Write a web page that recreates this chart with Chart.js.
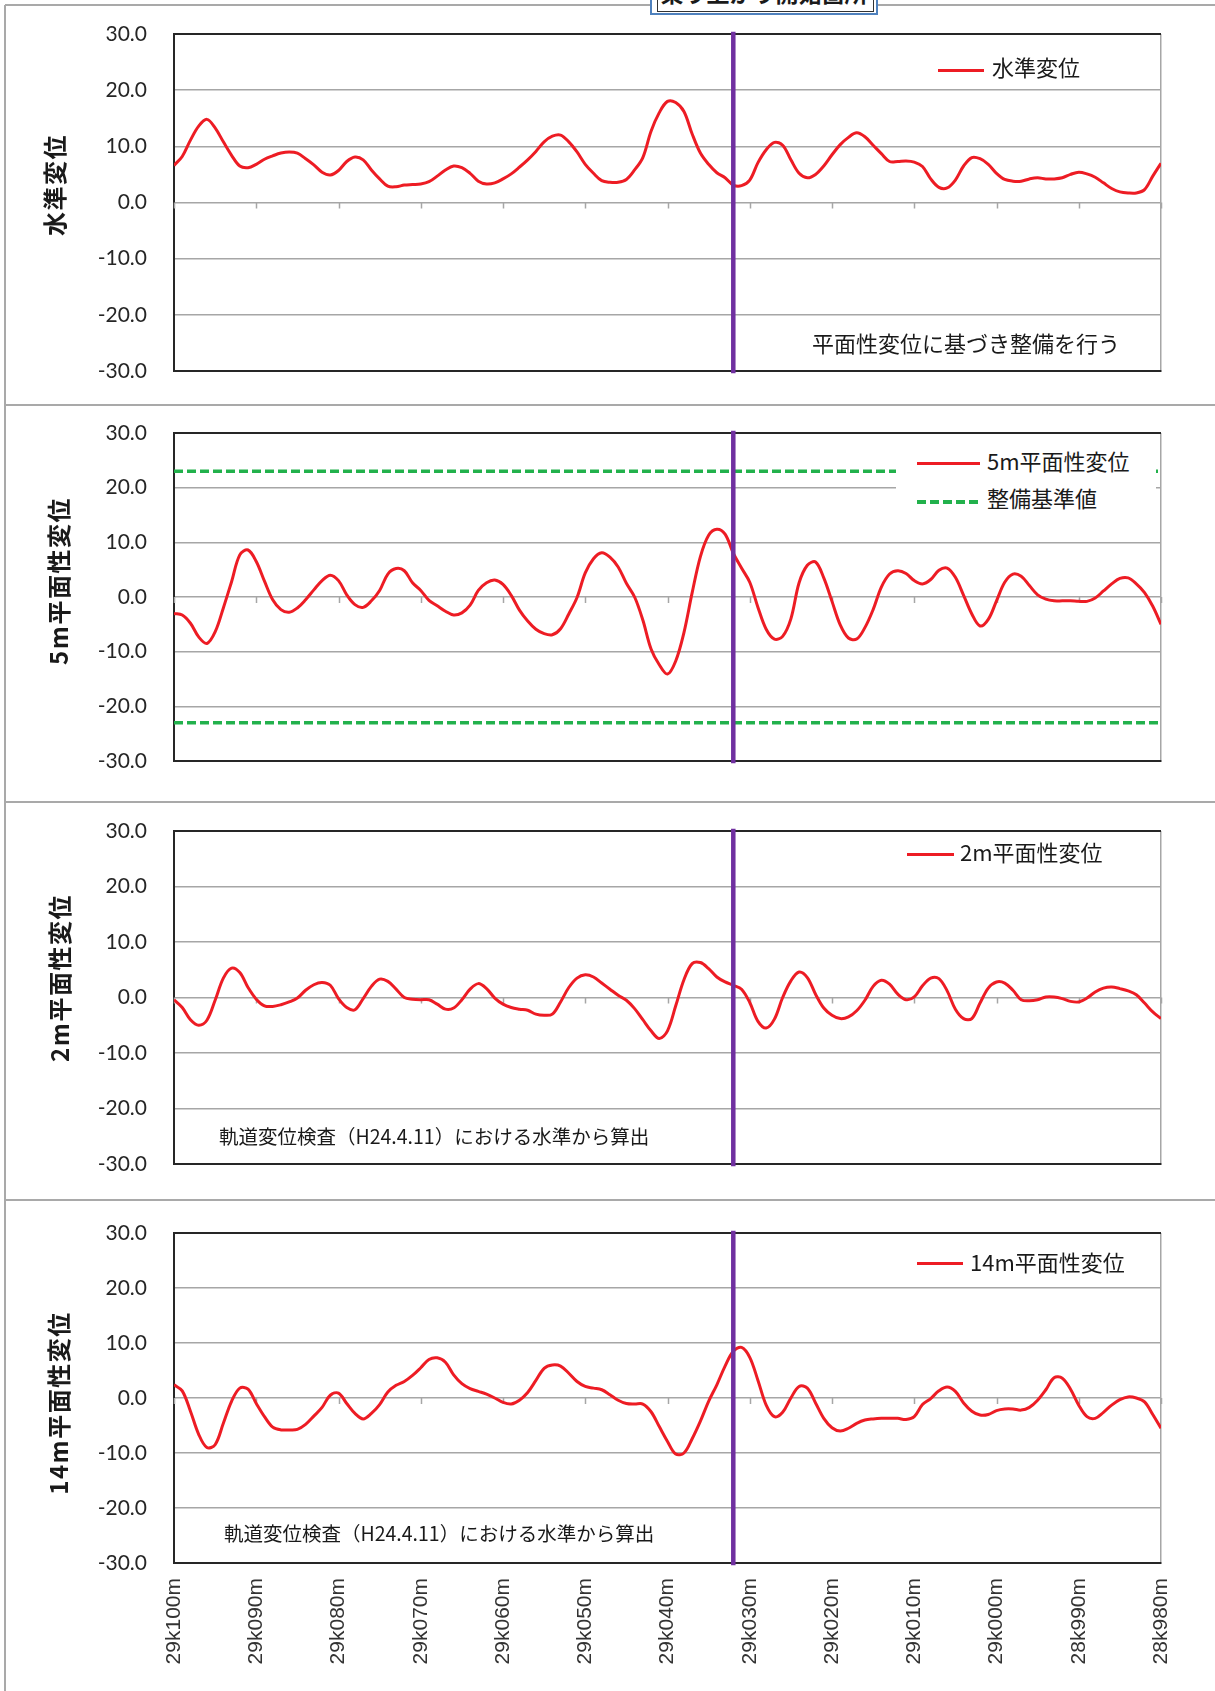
<!DOCTYPE html>
<html lang="ja">
<head>
<meta charset="utf-8">
<title>平面性変位</title>
<script src="https://cdn.jsdelivr.net/npm/chart.js@4.4.1/dist/chart.umd.min.js"></script>
<style>
  html, body { margin: 0; padding: 0; background: #fff; }
  body { width: 1215px; height: 1691px; position: relative; overflow: hidden;
         font-family: "Noto Sans CJK JP", sans-serif; color: #1a1a1a; }
  canvas { position: absolute; left: 0; }
  .hline { position: absolute; left: 5px; right: 0; height: 2px; background: #a9a9a9; }
  .vline { position: absolute; left: 4px; top: 5px; bottom: 0; width: 2px; background: #a9a9a9; }
  .ytitle { position: absolute; font-size: 24px; line-height: 24px; font-weight: bold;
            letter-spacing: 1.5px; white-space: nowrap;
            transform: translate(-50%, -50%) rotate(-90deg); }
  .txt { position: absolute; font-size: 22px; line-height: 22px; white-space: nowrap; }
  .note { position: absolute; font-size: 19.5px; line-height: 20px; white-space: nowrap; }
  .lg-red { position: absolute; height: 3px; background: #ed1c24; }
  .lg-green { position: absolute; height: 3.5px;
              background: repeating-linear-gradient(to right, #22b14c 0 9px, transparent 9px 13px); }
  #startBox { position: absolute; left: 650px; top: -32px; width: 228px; height: 47px;
              border: 2px solid #4f81bd; background: #fff; box-sizing: border-box; }
  #startBox .inner { position: absolute; left: 5px; right: 2px; top: 0; bottom: 1px; border: 1.5px solid #333; }
  #startBox .label { position: absolute; left: 0; right: 0; top: 11px; text-align: center;
                     font-size: 23px; line-height: 23px; font-weight: bold; }
</style>
</head>
<body>

<canvas id="c1" width="1215" height="400" style="top:5px"></canvas>
<canvas id="c2" width="1215" height="397" style="top:405px"></canvas>
<canvas id="c3" width="1215" height="398" style="top:802px"></canvas>
<canvas id="c4" width="1215" height="491" style="top:1200px"></canvas>

<div class="vline"></div>
<div class="hline" style="top:4px"></div>
<div class="hline" style="top:404px"></div>
<div class="hline" style="top:801px"></div>
<div class="hline" style="top:1199px"></div>

<div id="startBox"><div class="inner"></div><div class="label">乗り上がり開始箇所</div></div>

<div class="ytitle" style="left:54px; top:185px">水準変位</div>
<div class="ytitle" style="left:58px; top:581px">5m平面性変位</div>
<div class="ytitle" style="left:59px; top:978px">2m平面性変位</div>
<div class="ytitle" style="left:58px; top:1403px">14m平面性変位</div>

<!-- 凡例 -->
<div class="lg-red" style="left:938px; width:46px; top:69px"></div>
<div class="txt" style="left:992px; top:55px">水準変位</div>

<div style="position:absolute; left:896px; top:440px; width:260px; height:76px; background:#fff"></div>
<div class="lg-red" style="left:917px; width:63px; top:462px"></div>
<div class="txt" style="left:987px; top:449px">5m平面性変位</div>
<div class="lg-green" style="left:917px; width:63px; top:500px"></div>
<div class="txt" style="left:987px; top:486px">整備基準値</div>

<div class="lg-red" style="left:907px; width:47px; top:853px"></div>
<div class="txt" style="left:960px; top:840px">2m平面性変位</div>

<div class="lg-red" style="left:917px; width:46px; top:1262px"></div>
<div class="txt" style="left:970px; top:1250px">14m平面性変位</div>

<!-- 注記 -->
<div class="txt" style="left:812px; top:331px">平面性変位に基づき整備を行う</div>
<div class="note" style="left:219px; top:1126px">軌道変位検査（H24.4.11）における水準から算出</div>
<div class="note" style="left:224px; top:1523px">軌道変位検査（H24.4.11）における水準から算出</div>

<script>
// キロ程ラベル (10m毎)
const kmLabels = ['29k100m', '29k090m', '29k080m', '29k070m', '29k060m', '29k050m', '29k040m',
                  '29k030m', '29k020m', '29k010m', '29k000m', '28k990m', '28k980m'];
const stepM = 1;          // データ間隔 (m), 29k100m からの距離
const startPos = 68;      // 乗り上がり開始箇所 (29k100m からの距離 m)
const kijun = [23, -23];  // 5m平面性変位 整備基準値

// 水準変位
const suijun = [
  6.6, 8.2, 11.1, 13.6, 14.8, 13.3, 10.8, 8.4, 6.5, 6.2,
  6.8, 7.7, 8.3, 8.8, 9.0, 8.8, 7.8, 6.7, 5.4, 4.9,
  5.7, 7.3, 8.1, 7.6, 5.8, 4.2, 2.9, 2.8, 3.1, 3.2,
  3.3, 3.7, 4.7, 5.8, 6.5, 6.2, 5.2, 3.8, 3.3, 3.5,
  4.2, 5.1, 6.3, 7.6, 9.1, 10.8, 11.8, 12.0, 10.8, 9.0,
  6.8, 5.2, 3.9, 3.6, 3.6, 4.1, 5.8, 8.0, 12.7, 16.0,
  18.0, 17.8, 16.2, 12.2, 8.8, 6.8, 5.3, 4.4, 3.1, 3.0,
  4.0, 7.1, 9.4, 10.7, 10.2, 7.6, 5.2, 4.4, 5.0, 6.5,
  8.5, 10.3, 11.6, 12.4, 11.7, 10.2, 8.7, 7.3, 7.3, 7.4,
  7.2, 6.4, 4.2, 2.7, 2.6, 4.0, 6.5, 8.0, 7.8, 6.8,
  5.2, 4.1, 3.8, 3.8, 4.2, 4.4, 4.2, 4.2, 4.4, 5.0,
  5.4, 5.1, 4.5, 3.5, 2.5, 1.9, 1.7, 1.7, 2.3, 4.7,
  7.0
];

// 5m平面性変位
const heimen5 = [
  -3.0, -3.3, -4.8, -7.3, -8.5, -6.4, -2.0, 2.8, 7.7, 8.6,
  6.5, 2.9, -0.5, -2.3, -2.8, -2.0, -0.5, 1.3, 3.0, 4.0,
  3.0, 0.4, -1.4, -1.9, -0.7, 1.2, 4.2, 5.2, 4.8, 2.6,
  1.2, -0.6, -1.6, -2.6, -3.3, -2.9, -1.5, 1.2, 2.6, 3.1,
  2.3, 0.3, -2.4, -4.4, -5.9, -6.7, -6.9, -5.8, -3.1, -0.1,
  4.4, 7.0, 8.1, 7.3, 5.5, 2.5, 0.0, -4.2, -9.5, -12.4,
  -14.1, -11.7, -6.5, 0.8, 7.4, 11.3, 12.4, 11.5, 8.0, 5.3,
  2.7, -1.9, -5.9, -7.7, -7.2, -4.0, 2.6, 5.8, 6.4, 3.5,
  -0.8, -5.1, -7.5, -7.7, -5.6, -2.3, 1.8, 4.2, 4.8, 4.3,
  3.0, 2.4, 3.2, 4.9, 5.3, 3.6, 0.3, -3.1, -5.3, -4.1,
  -0.7, 2.7, 4.2, 3.8, 2.1, 0.4, -0.4, -0.7, -0.7, -0.7,
  -0.8, -0.8, -0.2, 1.1, 2.4, 3.4, 3.5, 2.4, 0.8, -1.7,
  -5.0
];

// 2m平面性変位
const heimen2 = [
  -0.4, -1.8, -4.0, -5.0, -4.1, -0.5, 3.5, 5.3, 4.5, 1.8,
  -0.3, -1.5, -1.6, -1.3, -0.8, -0.1, 1.3, 2.3, 2.7, 2.2,
  -0.2, -1.8, -2.2, -0.2, 2.0, 3.3, 2.9, 1.5, 0.0, -0.3,
  -0.4, -0.4, -1.2, -2.1, -1.9, -0.4, 1.5, 2.5, 1.6, -0.1,
  -1.2, -1.8, -2.1, -2.3, -3.0, -3.2, -3.0, -0.8, 1.8, 3.5,
  4.1, 3.7, 2.6, 1.5, 0.4, -0.5, -2.0, -4.0, -6.0, -7.4,
  -6.0, -1.5, 3.2, 6.1, 6.3, 5.2, 3.7, 2.8, 2.2, 1.5,
  -0.9, -4.3, -5.5, -3.9, 0.0, 3.0, 4.6, 3.6, 0.6, -1.9,
  -3.2, -3.8, -3.5, -2.4, -0.5, 2.0, 3.1, 2.4, 0.6, -0.4,
  0.1, 2.1, 3.5, 3.4, 1.2, -2.1, -3.8, -3.8, -1.0, 1.7,
  2.8, 2.6, 1.3, -0.4, -0.6, -0.4, 0.1, 0.1, -0.2, -0.7,
  -0.8, -0.1, 1.0, 1.7, 1.9, 1.6, 1.2, 0.5, -1.0, -2.6,
  -3.8
];

// 14m平面性変位
const heimen14 = [
  2.4, 1.3, -2.4, -6.6, -9.0, -8.5, -4.6, -0.6, 1.8, 1.6,
  -1.0, -3.4, -5.3, -5.8, -5.8, -5.7, -4.8, -3.3, -1.7, 0.5,
  0.9, -1.0, -2.8, -3.8, -2.8, -1.2, 1.1, 2.3, 3.0, 4.1,
  5.5, 7.0, 7.3, 6.5, 4.2, 2.6, 1.7, 1.2, 0.7, 0.0,
  -0.8, -1.1, -0.4, 1.0, 3.2, 5.4, 6.0, 5.8, 4.5, 3.0,
  2.1, 1.8, 1.5, 0.6, -0.4, -1.0, -1.1, -1.1, -2.5, -5.2,
  -7.9, -10.2, -10.0, -7.4, -4.2, -0.6, 2.4, 5.8, 8.5, 9.2,
  7.4, 3.2, -1.3, -3.4, -2.6, 0.0, 2.1, 1.8, -0.9, -3.7,
  -5.4, -6.0, -5.5, -4.6, -4.0, -3.8, -3.7, -3.7, -3.7, -3.9,
  -3.4, -1.2, -0.1, 1.3, 2.0, 1.2, -0.9, -2.4, -3.1, -3.0,
  -2.3, -2.0, -2.0, -2.2, -1.7, -0.4, 1.5, 3.7, 3.6, 1.6,
  -1.3, -3.4, -3.7, -2.6, -1.3, -0.3, 0.2, 0.0, -0.7, -3.0,
  -5.5
];

const RED = '#ed1c24';
const GREEN = '#22b14c';
const PURPLE = '#7030a0';
const GRID = '#a6a6a6';
const FRAME = '#262626';
const xMax = (kmLabels.length - 1) * 10;

function pts(arr) {
  return arr.map((v, i) => ({ x: i * stepM, y: v }));
}

// 0 の軸線上の目盛り
const zeroTicks = {
  id: 'zeroTicks',
  beforeDatasetsDraw(chart) {
    const { ctx, scales: { x, y } } = chart;
    const y0 = y.getPixelForValue(0);
    ctx.save();
    ctx.strokeStyle = GRID;
    ctx.lineWidth = 1.5;
    ctx.beginPath();
    x.ticks.forEach(t => {
      const px = Math.round(x.getPixelForValue(t.value)) + 0.5;
      ctx.moveTo(px, y0);
      ctx.lineTo(px, y0 + 6);
    });
    ctx.stroke();
    ctx.restore();
  }
};

function makeChart(id, series, padTop, xHeight, showLabels, extra) {
  const datasets = [{
    data: [{ x: startPos, y: 30 }, { x: startPos, y: -30 }],
    borderColor: PURPLE, borderWidth: 4.5, pointRadius: 0,
    borderCapStyle: 'square', clip: false
  }];
  (extra || []).forEach(v => datasets.push({
    data: [{ x: 0, y: v }, { x: xMax, y: v }],
    borderColor: GREEN, borderWidth: 3.5, borderDash: [9, 4], pointRadius: 0
  }));
  datasets.push({
    data: pts(series),
    borderColor: RED, borderWidth: 3, pointRadius: 0, tension: 0.35
  });

  return new Chart(document.getElementById(id), {
    type: 'line',
    data: { datasets },
    plugins: [zeroTicks],
    options: {
      responsive: false,
      animation: false,
      devicePixelRatio: 1,
      layout: { padding: { left: 0, right: 54, top: padTop, bottom: 0 } },
      plugins: { legend: { display: false }, tooltip: { enabled: false } },
      scales: {
        x: {
          type: 'linear', min: 0, max: xMax,
          afterFit: s => { s.height = xHeight; },
          border: { display: true, color: FRAME, width: 2 },
          grid: {
            drawTicks: false, lineWidth: 1.5,
            color: c => (c.tick && c.tick.value === xMax ? GRID : 'rgba(0,0,0,0)')
          },
          ticks: {
            display: showLabels, stepSize: 10, autoSkip: false,
            minRotation: 90, maxRotation: 90, padding: 15,
            color: '#333', font: { family: 'Liberation Sans', size: 21 },
            callback: v => kmLabels[Math.round(v / 10)]
          }
        },
        y: {
          min: -30, max: 30,
          afterFit: s => { s.width = 174; },
          border: { display: true, color: FRAME, width: 2 },
          grid: {
            drawTicks: true, tickLength: 27, tickColor: 'rgba(0,0,0,0)',
            color: c => (c.tick && Math.abs(c.tick.value) === 30 ? FRAME : GRID),
            lineWidth: c => (c.tick && Math.abs(c.tick.value) === 30 ? 2 : 1.5)
          },
          ticks: {
            stepSize: 10, padding: 0, color: '#262626',
            font: { family: 'Lato', size: 21 },
            callback: v => v.toFixed(1)
          }
        }
      }
    }
  });
}

makeChart('c1', suijun, 29, 34, false);
makeChart('c2', heimen5, 28, 41, false, kijun);
makeChart('c3', heimen2, 29, 36, false);
makeChart('c4', heimen14, 33, 128, true);
</script>
</body>
</html>
